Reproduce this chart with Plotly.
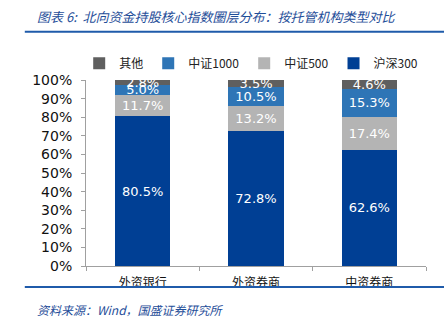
import plotly.graph_objects as go

categories = ["外资银行", "外资券商", "中资券商"]
hs300 = [80.5, 72.8, 62.6]
zz500 = [11.7, 13.2, 17.4]
zz1000 = [5.0, 10.5, 15.3]
other = [2.8, 3.5, 4.6]

series = [
    ("沪深300", hs300, "#003F94"),
    ("中证500", zz500, "#B4B4B4"),
    ("中证1000", zz1000, "#2E75B6"),
    ("其他", other, "#5F5F5F"),
]

num_font = "Verdana, DejaVu Sans, sans-serif"
cjk_font = "Noto Sans CJK SC, sans-serif"

fig = go.Figure()
for name, vals, color in series:
    fig.add_trace(go.Bar(
        x=categories, y=vals, name=name,
        marker=dict(color=color, line=dict(width=0)),
        text=[f"{v:.1f}%" for v in vals],
        textposition="inside", insidetextanchor="middle",
        constraintext="none",
        textfont=dict(color="white", size=13, family=num_font),
        width=0.49,
    ))

fig.update_layout(
    barmode="stack",
    width=444, height=328,
    margin=dict(l=86, r=18, t=80, b=62, autoexpand=False),
    paper_bgcolor="white", plot_bgcolor="white",
    showlegend=True,
    legend=dict(orientation="h", traceorder="reversed", x=-0.02, y=1.09,
                xanchor="left", yanchor="middle",
                font=dict(family=cjk_font, size=12, color="#222"),
                itemwidth=30),
    font=dict(family=num_font),
)
fig.update_yaxes(range=[0, 100], dtick=10, ticksuffix="%",
                 showgrid=False, showline=True, linecolor="#A0A0A0", linewidth=1,
                 ticks="outside", ticklen=4, tickcolor="#A0A0A0", ticklabelstandoff=6,
                 tickfont=dict(family=num_font, size=14, color="#111"))
fig.update_xaxes(showgrid=False, showline=True, linecolor="#A0A0A0", linewidth=1,
                 ticks="outside", ticklen=4, tickcolor="#A0A0A0", tickson="boundaries",
                 ticklabelstandoff=6,
                 tickfont=dict(family=cjk_font, size=12, color="#111"))

fig.add_annotation(text="<i>图表 6:  北向资金持股核心指数圈层分布：按托管机构类型对比</i>",
                   xref="paper", yref="paper", x=-0.15, y=1.34, xanchor="left", yanchor="middle",
                   showarrow=False,
                   font=dict(family=cjk_font, size=13, color="#1F4E99"))
fig.add_annotation(text="<i>资料来源：Wind，国盛证券研究所</i>",
                   xref="paper", yref="paper", x=-0.15, y=-0.235, xanchor="left", yanchor="middle",
                   showarrow=False,
                   font=dict(family=cjk_font, size=12, color="#1F4E99"))
fig.add_shape(type="line", xref="paper", yref="paper", x0=-0.18, x1=1.06, y0=1.26, y1=1.26,
              line=dict(color="#1F5BAA", width=2))
fig.add_shape(type="line", xref="paper", yref="paper", x0=-0.18, x1=1.06, y0=-0.113, y1=-0.113,
              line=dict(color="#1F5BAA", width=2))

fig.write_html("out.html")
